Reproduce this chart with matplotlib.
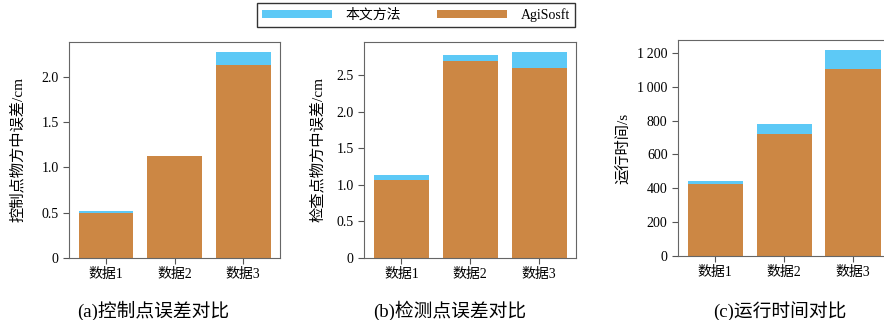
import matplotlib.pyplot as plt
from matplotlib.ticker import FuncFormatter

plt.rcParams['font.family'] = ['Liberation Serif', 'Noto Sans CJK SC']

categories = ['数据1', '数据2', '数据3']
ours_ctrl = [0.52, 1.12, 2.27]
agi_ctrl = [0.50, 1.12, 2.13]
ours_check = [1.13, 2.77, 2.81]
agi_check = [1.07, 2.69, 2.59]
ours_time = [443, 779, 1216]
agi_time = [427, 724, 1104]

ylabels = ['控制点物方中误差/cm', '检查点物方中误差/cm', '运行时间/s']
captions = ['(a)控制点误差对比', '(b)检测点误差对比', '(c)运行时间对比']
yticks = [[0, 0.5, 1.0, 1.5, 2.0],
          [0, 0.5, 1.0, 1.5, 2.0, 2.5],
          [0, 200, 400, 600, 800, 1000, 1200]]

BLUE = '#5dc9f6'
ORANGE = '#cc8744'


def fmt_tick(v, pos):
    if v == 0:
        return '0'
    if v >= 1000:
        s = '%d' % v
        return s[:-3] + '\u2009' + s[-3:]
    if v >= 100:
        return '%d' % v
    return '%.1f' % v


fig = plt.figure(figsize=(8.84, 3.2), dpi=100)
boxes = [[0.078, 0.194, 0.239, 0.675],
         [0.412, 0.194, 0.240, 0.675],
         [0.767, 0.200, 0.240, 0.675]]
pads = [12, 8, 5]
cap_x = [0.173, 0.509, 0.882]
series = [(ours_ctrl, agi_ctrl), (ours_check, agi_check), (ours_time, agi_time)]

for i, (ours, agi) in enumerate(series):
    ax = fig.add_axes(boxes[i])
    b1 = ax.bar(categories, ours, width=0.8, color=BLUE, label='本文方法')
    b2 = ax.bar(categories, agi, width=0.8, color=ORANGE, label='AgiSosft')
    ax.set_yticks(yticks[i])
    ax.yaxis.set_major_formatter(FuncFormatter(fmt_tick))
    ax.set_ylabel(ylabels[i], fontsize=11, labelpad=pads[i])
    ax.tick_params(labelsize=10, color='#555555', length=4)
    for s in ax.spines.values():
        s.set_color('#666666')
    fig.text(cap_x[i], 0.028, captions[i], fontsize=13.5, ha='center', va='center')
    if i == 0:
        handles = [b1, b2]

leg = fig.legend(handles, ['本文方法', 'AgiSosft'], ncol=2, loc='center',
                 bbox_to_anchor=(0.4705, 0.953), fontsize=10, frameon=True,
                 fancybox=False, edgecolor='black', handlelength=5.0,
                 handleheight=0.6, columnspacing=2.6, handletextpad=1.0,
                 borderpad=0.35)
leg.get_frame().set_linewidth(1.0)

fig.savefig('out.png', dpi=100)
